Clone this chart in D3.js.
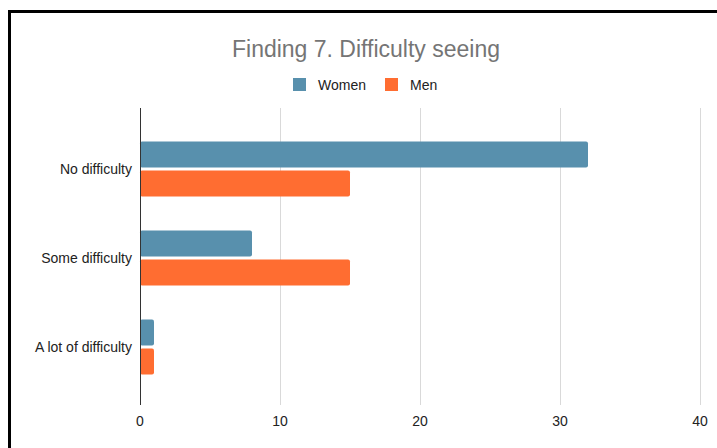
<!DOCTYPE html>
<html>
<head>
<meta charset="utf-8">
<script src="https://cdn.jsdelivr.net/npm/d3@7"></script>
<style>
  html, body { margin: 0; padding: 0; background: #fff; }
  svg { display: block; font-family: "Liberation Sans", Arial, sans-serif; }
</style>
</head>
<body>
<svg id="chart" width="717" height="448"></svg>
<script>
const categories = ["No difficulty", "Some difficulty", "A lot of difficulty"];
const seriesNames = ["Women", "Men"];
const women = [32, 8, 1];
const men = [15, 15, 1];
const xTicks = [0, 10, 20, 30, 40];
const colors = ["#5890ad", "#ff6d31"];

const svg = d3.select("#chart");
const W = 717, H = 448;
const plot = { left: 140, right: 700, top: 108, bottom: 405 };

// frame edges
svg.append("rect").attr("x", 0).attr("y", 0).attr("width", W).attr("height", H).attr("fill", "#fff");
svg.append("line").attr("x1", 9.5).attr("x2", 9.5).attr("y1", 10).attr("y2", H).attr("stroke", "#000").attr("stroke-width", 3);
svg.append("line").attr("x1", 8).attr("x2", W).attr("y1", 11.5).attr("y2", 11.5).attr("stroke", "#000").attr("stroke-width", 3);

const x = d3.scaleLinear().domain([0, 40]).range([plot.left, plot.right]);
const y = d3.scaleBand().domain(categories).range([plot.top + 1.5, plot.bottom + 1.5])
  .paddingInner(0.382).paddingOuter(0.36);
const ySub = d3.scaleBand().domain(seriesNames).range([0, y.bandwidth()]).paddingInner(0.1);

// gridlines
svg.append("g").selectAll("line").data(xTicks.filter(t => t !== 0)).join("line")
  .attr("x1", d => x(d) + 0.5).attr("x2", d => x(d) + 0.5)
  .attr("y1", plot.top).attr("y2", plot.bottom)
  .attr("stroke", "#d9d9d9").attr("stroke-width", 1);

// tick labels
svg.append("g").selectAll("text").data(xTicks).join("text")
  .attr("x", d => x(d)).attr("y", 426)
  .attr("text-anchor", "middle").attr("font-size", 14).attr("fill", "#222")
  .text(d => d);

// bars
const rows = categories.map((c, i) => ({ cat: c, vals: [women[i], men[i]] }));
const groups = svg.append("g").selectAll("g").data(rows).join("g")
  .attr("transform", d => `translate(0,${y(d.cat)})`);
groups.selectAll("rect").data(d => d.vals.map((v, j) => ({ v, s: seriesNames[j], j }))).join("rect")
  .attr("x", x(0))
  .attr("y", d => ySub(d.s))
  .attr("width", d => x(d.v) - x(0))
  .attr("height", ySub.bandwidth())
  .attr("rx", 2)
  .attr("fill", d => colors[d.j]);

// category labels
svg.append("g").selectAll("text").data(categories).join("text")
  .attr("x", 132).attr("y", d => y(d) + y.bandwidth() / 2)
  .attr("dy", "0.35em").attr("text-anchor", "end")
  .attr("font-size", 14).attr("fill", "#222")
  .text(d => d);

// baseline
svg.append("line").attr("x1", x(0) + 0.5).attr("x2", x(0) + 0.5)
  .attr("y1", plot.top).attr("y2", plot.bottom)
  .attr("stroke", "#333").attr("stroke-width", 1);

// title
svg.append("text").attr("x", 366).attr("y", 57).attr("text-anchor", "middle")
  .attr("font-size", 23).attr("fill", "#757575").text("Finding 7. Difficulty seeing");

// legend
const legendItems = [{ name: "Women", x: 293 }, { name: "Men", x: 385 }];
const lg = svg.append("g").selectAll("g").data(legendItems).join("g")
  .attr("transform", d => `translate(${d.x},78)`);
lg.append("rect").attr("width", 13).attr("height", 13).attr("fill", (d, i) => colors[i]);
lg.append("text").attr("x", 25).attr("y", 12).attr("font-size", 14).attr("fill", "#222")
  .text(d => d.name);
</script>
</body>
</html>
